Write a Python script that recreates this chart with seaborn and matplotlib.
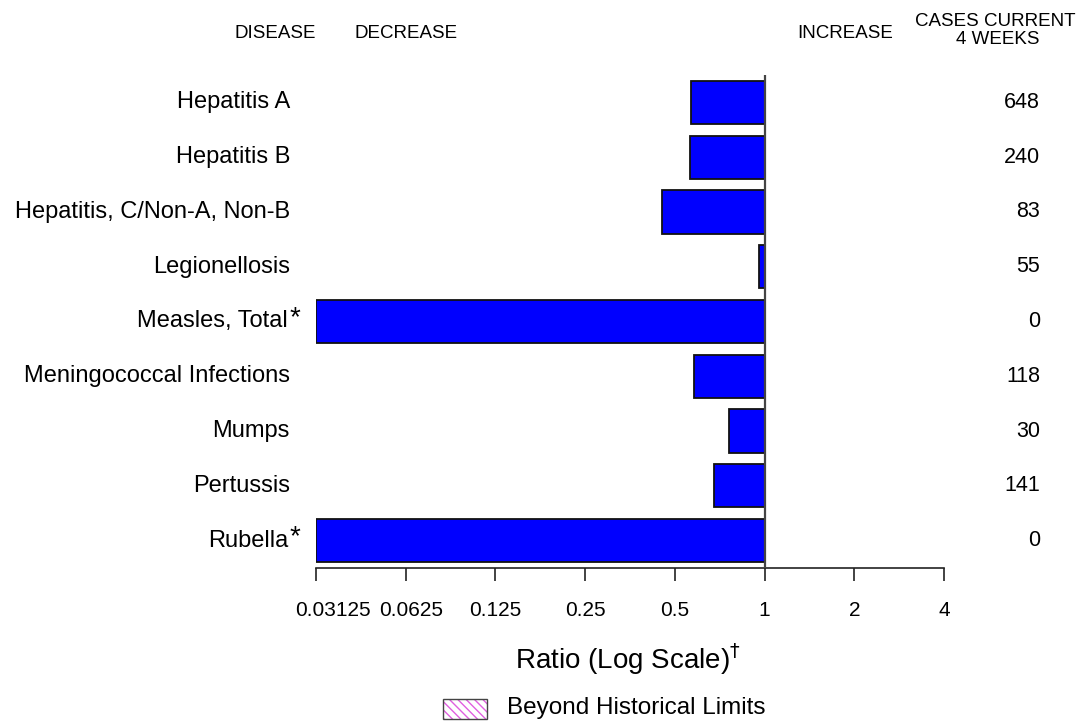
import numpy as np
import pandas as pd
import seaborn as sns
import matplotlib.pyplot as plt
from matplotlib.patches import Rectangle
from matplotlib.ticker import FixedLocator, FixedFormatter
from matplotlib.transforms import ScaledTranslation

# Notifiable diseases: ratio of current 4-week totals to historical baseline
diseases = [
    "Hepatitis A",
    "Hepatitis B",
    "Hepatitis, C/Non-A, Non-B",
    "Legionellosis",
    "Measles, Total",
    "Meningococcal Infections",
    "Mumps",
    "Pertussis",
    "Rubella",
]
ratios = [0.566, 0.564, 0.451, 0.955, 0.03125, 0.580, 0.759, 0.678, 0.03125]
cases_current = [648, 240, 83, 55, 0, 118, 30, 141, 0]
footnoted = [False, False, False, False, True, False, False, False, True]
tick_ratios = [0.03125, 0.0625, 0.125, 0.25, 0.5, 1, 2, 4]
tick_labels = ["0.03125", "0.0625", "0.125", "0.25", "0.5", "1", "2", "4"]

sns.set_theme(style="white")
plt.rcParams["font.family"] = ["Liberation Sans", "DejaVu Sans"]

df = pd.DataFrame({"disease": diseases, "log_ratio": np.log2(ratios)})

fig = plt.figure(figsize=(10.81, 7.21), dpi=100)
ax = fig.add_axes([0.2923, 0.2122, 0.5810, 0.6838])

sns.barplot(data=df, x="log_ratio", y="disease", orient="h", color="#0000ff",
            saturation=1, width=0.79, edgecolor="#111111", linewidth=1.3, ax=ax)

ax.set_xlim(np.log2(tick_ratios[0]), np.log2(tick_ratios[-1]))
ax.set_ylim(len(diseases) - 0.5, -0.5)
ax.xaxis.set_major_locator(FixedLocator(np.log2(tick_ratios)))
ax.xaxis.set_major_formatter(FixedFormatter(tick_labels))
ax.tick_params(axis="x", bottom=True, length=9, width=1.2, color="#222222",
               pad=15, labelsize=15, labelcolor="black", direction="out")
ax.tick_params(axis="y", left=False, labelleft=False)
ax.set_xlabel("")
ax.set_ylabel("")
for side in ["top", "right", "left"]:
    ax.spines[side].set_visible(False)
ax.spines["bottom"].set_color("#222222")
ax.spines["bottom"].set_linewidth(1.2)
ax.axvline(0, color="#444444", lw=1.6, zorder=5)

# Nudge the two leftmost tick labels rightward so they don't crowd the edge
fig.canvas.draw()
for lbl, dx in zip(ax.get_xticklabels(), [17, 5]):
    lbl.set_transform(lbl.get_transform() + ScaledTranslation(dx / 100, 0, fig.dpi_scale_trans))

# Disease names on the left, case counts on the right
for i, (name, n, star) in enumerate(zip(diseases, cases_current, footnoted)):
    offset = -28 if star else -26
    ax.annotate(name, xy=(0, i), xycoords=("axes fraction", "data"),
                xytext=(offset, 0), textcoords="offset pixels",
                ha="right", va="center", fontsize=17, color="black")
    if star:
        ax.annotate("*", xy=(0, i), xycoords=("axes fraction", "data"),
                    xytext=(-16, 3), textcoords="offset pixels",
                    ha="right", va="center", fontsize=20, color="black")
    ax.annotate(str(n), xy=(1040 / 1081, i), xycoords=("figure fraction", "data"),
                ha="right", va="center", fontsize=15.5, color="black")

# Column headers
hdr = dict(fontsize=13.5, color="black", va="center")
fig.text(234 / 1081, 1 - 33 / 721, "DISEASE", ha="left", **hdr)
fig.text(355 / 1081, 1 - 33 / 721, "DECREASE", ha="left", **hdr)
fig.text(893 / 1081, 1 - 33 / 721, "INCREASE", ha="right", **hdr)
fig.text(995 / 1081, 1 - 21 / 721, "CASES CURRENT", ha="center", **hdr)
fig.text(998 / 1081, 1 - 40 / 721, "4 WEEKS", ha="center", **hdr)

# Axis title with dagger
fig.text(628 / 1081, 1 - 659 / 721, "Ratio (Log Scale)$^{\u2020}$", ha="center",
         va="center", fontsize=20, color="black")

# Legend key
fig.patches.append(Rectangle((443 / 1081, 1 - 719 / 721), 44 / 1081, 20 / 721,
                             transform=fig.transFigure, facecolor="white",
                             edgecolor="#e060e0", hatch="\\\\\\\\", lw=0))
fig.patches.append(Rectangle((443 / 1081, 1 - 719 / 721), 44 / 1081, 20 / 721,
                             transform=fig.transFigure, facecolor="none",
                             edgecolor="#444444", lw=1.0))
fig.text(507 / 1081, 1 - 708 / 721, "Beyond Historical Limits", ha="left",
         va="center", fontsize=17.5, color="black")

fig.savefig("out.png", dpi=100, facecolor="white")
